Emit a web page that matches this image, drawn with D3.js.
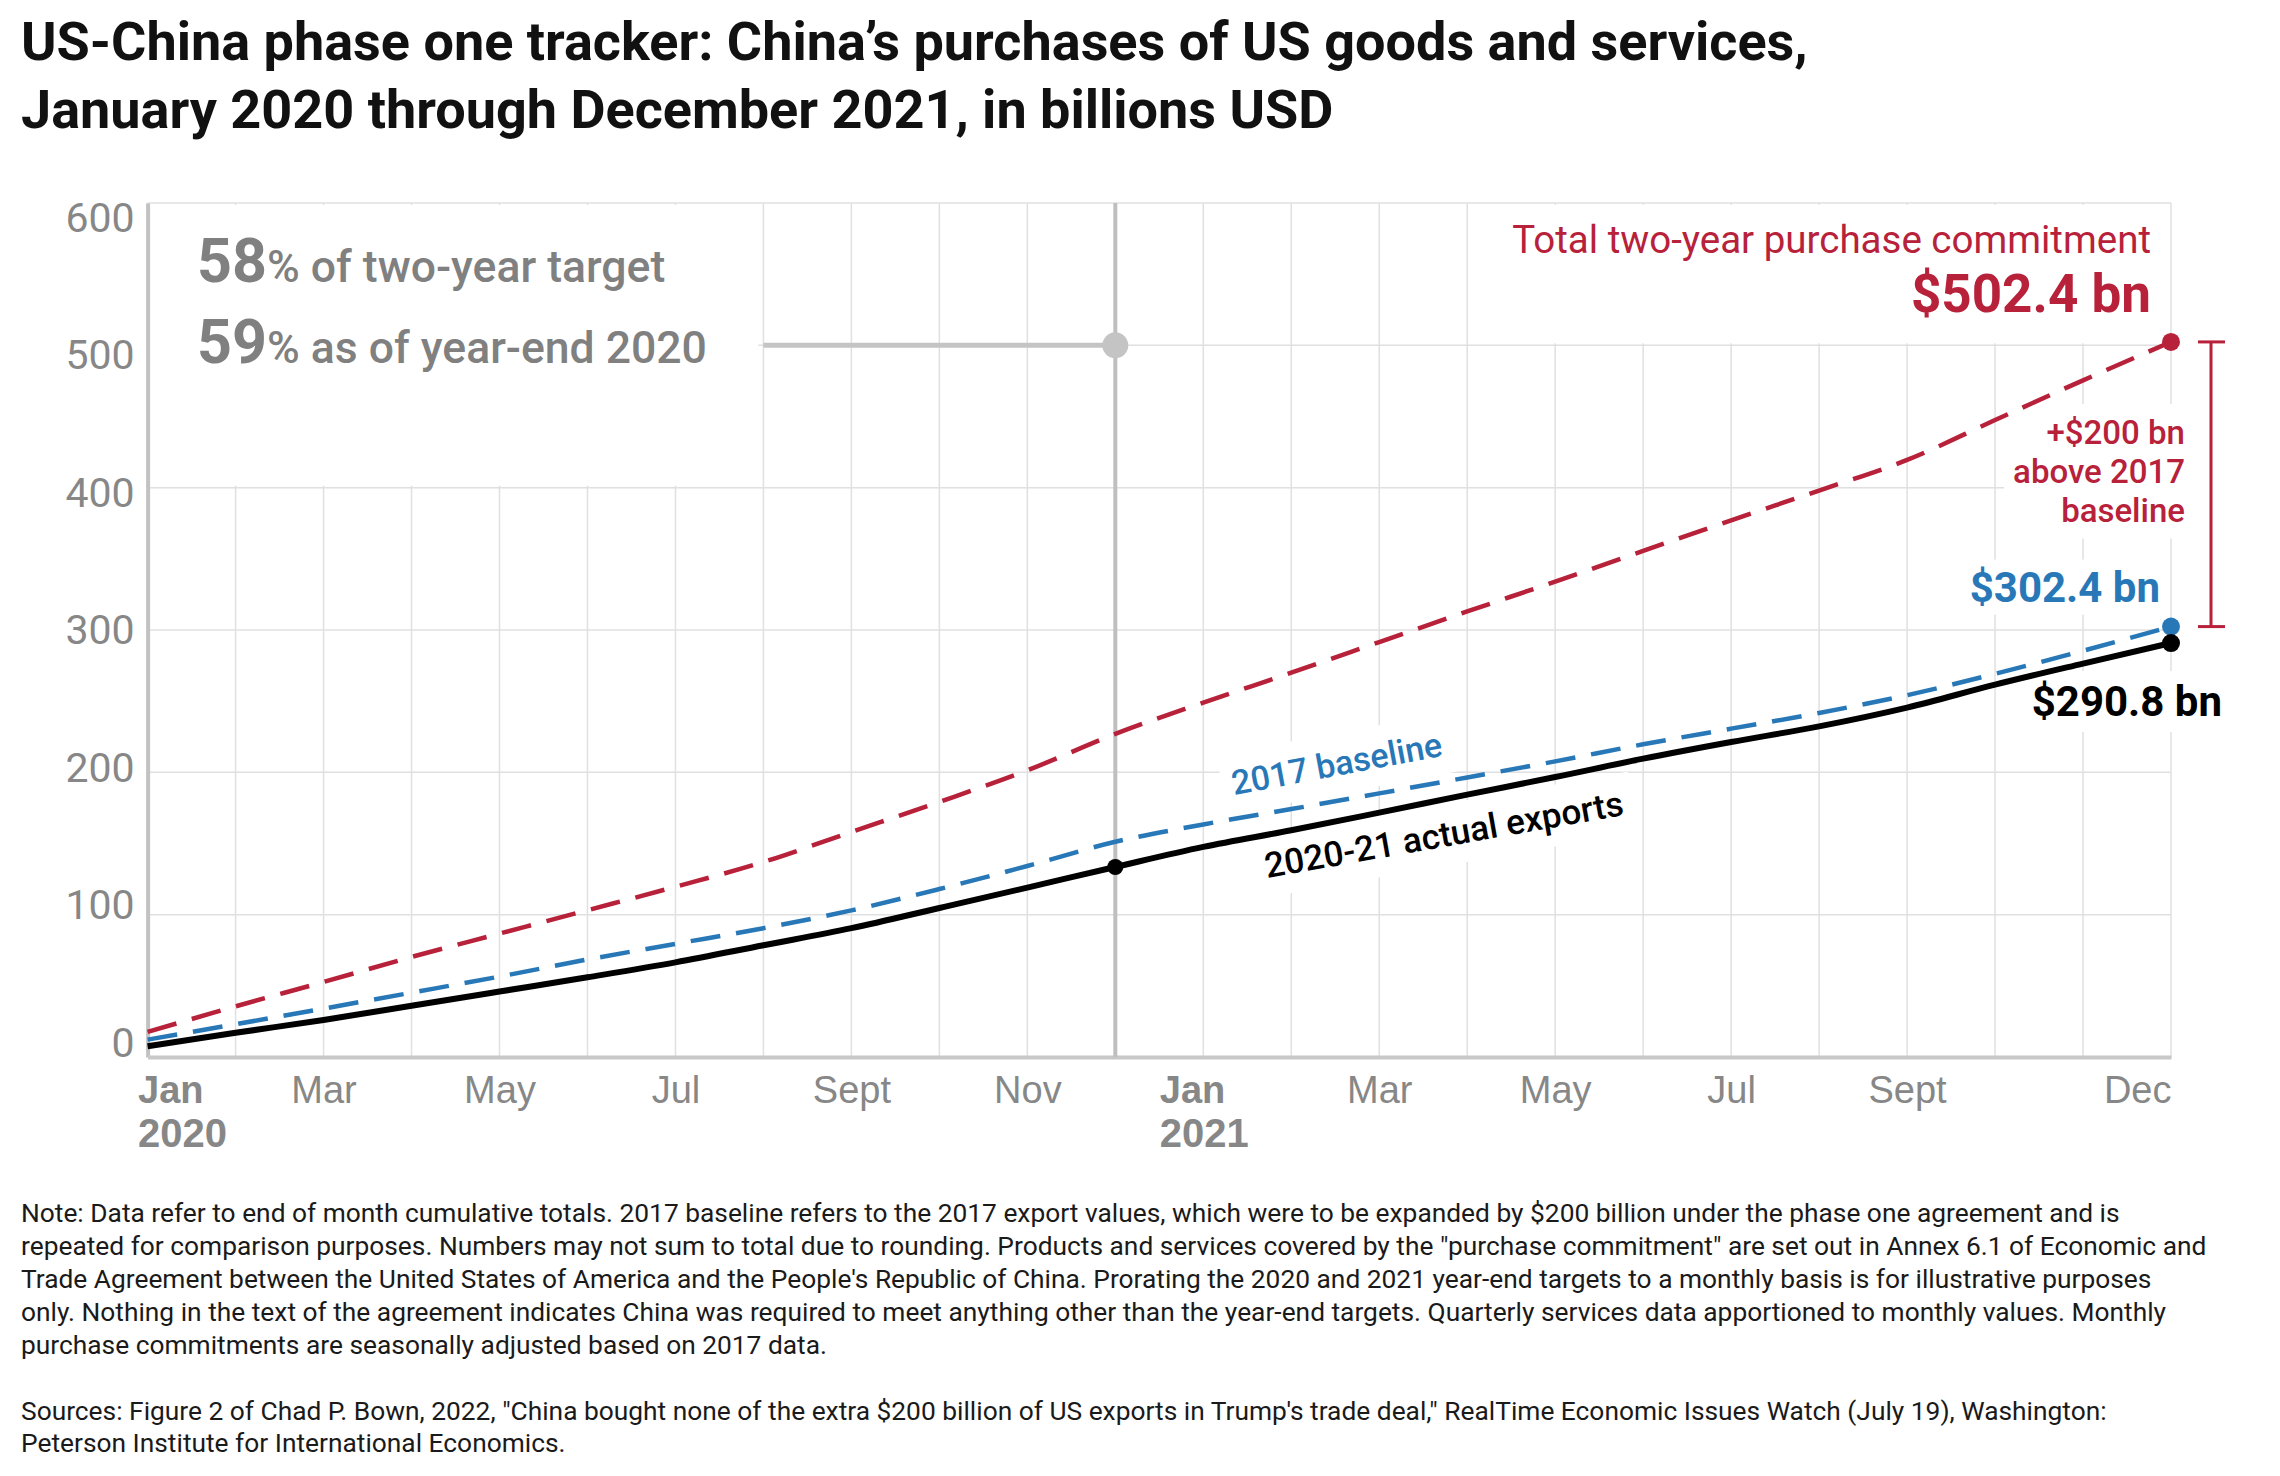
<!DOCTYPE html>
<html><head><meta charset="utf-8">
<script src="https://cdn.jsdelivr.net/npm/d3@7"></script>
<style>
html,body{margin:0;padding:0;background:#fff;}
svg{display:block;font-family:Roboto,"Noto Sans",sans-serif;}
</style></head>
<body>
<svg id="chart" width="2280" height="1476"></svg>
<script>
// ---------- data ----------
const months = ["2020-01","2020-02","2020-03","2020-04","2020-05","2020-06","2020-07","2020-08","2020-09","2020-10","2020-11","2020-12",
                "2021-01","2021-02","2021-03","2021-04","2021-05","2021-06","2021-07","2021-08","2021-09","2021-10","2021-11","2021-12"];
const actualExports = [7.5,17,26,36,46,56,66.5,78.5,90.5,104.7,119,133.5,
                       147.6,159.3,171.7,184.3,196.7,209.6,221.3,232.3,245.5,261.6,276.4,290.8];
const baseline2017 = [12.2,23,34,45.2,56.5,68.5,79.5,90.5,103,118,134.2,151.2,
                      163.4,174.2,185.2,196.4,207.7,219.7,230.7,241.7,254.2,269.2,285.4,302.4];
const commitment = [17.6,35.6,52.7,70.3,86.7,103.1,119.6,137,158.1,179.2,201.4,227,
                    249,270,291.5,313,334,355.6,377,398,419.5,447.5,475.4,502.4];
const yTicks = [0,100,200,300,400,500,600];
const xTickMonths = ["2020-01","2020-03","2020-05","2020-07","2020-09","2020-11","2021-01","2021-03","2021-05","2021-07","2021-09","2021-12"];
const xTickNames = ["Jan","Mar","May","Jul","Sept","Nov","Jan","Mar","May","Jul","Sept","Dec"];
const xTickYears = ["2020","","","","","","2021","","","","",""];
const titleLines = ["US-China phase one tracker: China\u2019s purchases of US goods and services,",
                    "January 2020 through December 2021, in billions USD"];
const noteLines = [
 "Note: Data refer to end of month cumulative totals. 2017 baseline refers to the 2017 export values, which were to be expanded by $200 billion under the phase one agreement and is",
 "repeated for comparison purposes. Numbers may not sum to total due to rounding. Products and services covered by the \"purchase commitment\" are set out in Annex 6.1 of Economic and",
 "Trade Agreement between the United States of America and the People's Republic of China. Prorating the 2020 and 2021 year-end targets to a monthly basis is for illustrative purposes",
 "only. Nothing in the text of the agreement indicates China was required to meet anything other than the year-end targets. Quarterly services data apportioned to monthly values. Monthly",
 "purchase commitments are seasonally adjusted based on 2017 data."];
const sourceLines = [
 "Sources: Figure 2 of Chad P. Bown, 2022, \"China bought none of the extra $200 billion of US exports in Trump's trade deal,\" RealTime Economic Issues Watch (July 19), Washington:",
 "Peterson Institute for International Economics."];
const bracketLines = ["+$200 bn", "above 2017", "baseline"];
const yearEnd2020Month = "2020-12";
const leaderStartMonth = "2020-08";
const yearEnd2020Level = 500;

// ---------- styles ----------
const RED = "#b8213a", BLUE = "#2878b8", GRAY = "#878787", GRID = "#e0e0e0";

const svg = d3.select("#chart");
const x = d3.scalePoint().domain(months).range([147.6, 2171]);
const y = d3.scaleLinear().domain([0, 600]).range([1057, 203]);
const yLab = d3.scaleLinear().domain([0, 600]).range([1042, 217]); // label centres in reference

// title
const title = svg.append("g");
titleLines.forEach((t, i) => {
  title.append("text").attr("x", 21).attr("y", 60 + i * 68)
    .attr("font-size", 54).attr("font-weight", 700).attr("fill", "#111").text(t);
});

// gridlines
const grid = svg.append("g");
grid.selectAll("line.v").data(months).join("line")
  .attr("x1", d => x(d)).attr("x2", d => x(d)).attr("y1", y(600)).attr("y2", y(0))
  .attr("stroke", GRID).attr("stroke-width", 1.5);
grid.selectAll("line.h").data(yTicks.filter(d => d > 0)).join("line")
  .attr("x1", x(months[0])).attr("x2", x(months[months.length - 1]))
  .attr("y1", d => y(d)).attr("y2", d => y(d))
  .attr("stroke", GRID).attr("stroke-width", 1.5);

// white knock-out boxes behind annotations
const boxes = svg.append("g");
boxes.append("rect").attr("x", 150).attr("y", y(600) + 2).attr("width", x(leaderStartMonth) - 155)
  .attr("height", y(400) - y(600) - 4).attr("fill", "#fff");
boxes.append("rect").attr("x", 1490).attr("y", y(600) + 2).attr("width", x(months[23]) - 1493)
  .attr("height", y(500) - y(600) - 4).attr("fill", "#fff");

// axes
const yAxis = d3.axisLeft(y).tickValues(yTicks).tickSize(0).tickPadding(0);
const yAx = svg.append("g").attr("transform", "translate(147.6,0)").call(yAxis);
yAx.select(".domain").attr("stroke", "#c2c2c2").attr("stroke-width", 4);
yAx.selectAll(".tick").attr("transform", d => `translate(0,${yLab(d)})`);
yAx.selectAll(".tick text").attr("x", -13).attr("dy", "0.36em")
  .attr("font-size", 41).attr("font-family", "Roboto").attr("fill", GRAY);

const xAxis = d3.axisBottom(x).tickValues(xTickMonths).tickSize(0).tickFormat(() => "");
const xAx = svg.append("g").attr("transform", `translate(0,${y(0)})`).call(xAxis);
xAx.select(".domain").attr("stroke", "#c8c8c8").attr("stroke-width", 4);
xAx.selectAll(".tick text").remove();
xAx.selectAll(".tick").each(function(d, i) {
  const g = d3.select(this);
  const isJan = xTickNames[i] === "Jan";
  let anchor = "middle", dx = 0;
  if (i === 0) { anchor = "start"; dx = -10; }
  else if (isJan) { anchor = "start"; dx = -44; }
  else if (i === xTickMonths.length - 1) { anchor = "end"; dx = 0; }
  g.append("text").attr("x", dx).attr("y", 46).attr("text-anchor", anchor)
    .attr("font-size", 38).attr("font-weight", isJan ? 700 : 400).attr("fill", GRAY).text(xTickNames[i]);
  if (xTickYears[i]) {
    g.append("text").attr("x", dx).attr("y", 90).attr("text-anchor", anchor)
      .attr("font-size", 40).attr("font-weight", 700).attr("fill", GRAY).text(xTickYears[i]);
  }
});

// year-end 2020 vertical and leader
svg.append("line").attr("x1", x(yearEnd2020Month)).attr("x2", x(yearEnd2020Month))
  .attr("y1", y(600)).attr("y2", y(0)).attr("stroke", "#bfbfbf").attr("stroke-width", 4);
svg.append("line").attr("x1", x(leaderStartMonth)).attr("x2", x(yearEnd2020Month))
  .attr("y1", y(yearEnd2020Level)).attr("y2", y(yearEnd2020Level)).attr("stroke", "#c4c4c4").attr("stroke-width", 5);
svg.append("circle").attr("cx", x(yearEnd2020Month)).attr("cy", y(yearEnd2020Level)).attr("r", 13).attr("fill", "#c4c4c4");

const knock = svg.append("g");
const linesG = svg.append("g");
const labels = svg.append("g");

function addKnock(sel, pad, rot) {
  const bb = sel.node().getBBox();
  const r = knock.append("rect").attr("x", bb.x - pad).attr("y", bb.y - pad)
    .attr("width", bb.width + 2 * pad).attr("height", bb.height + 2 * pad).attr("fill", "#fff");
  if (rot) r.attr("transform", rot);
}

// lines
const lineGen = d3.line().x((d, i) => x(months[i])).y(d => y(d)).curve(d3.curveMonotoneX);
linesG.append("path").datum(commitment).attr("d", lineGen).attr("fill", "none")
  .attr("stroke", RED).attr("stroke-width", 4.5).attr("stroke-dasharray", "30,16");
linesG.append("path").datum(baseline2017).attr("d", lineGen).attr("fill", "none")
  .attr("stroke", BLUE).attr("stroke-width", 4.5).attr("stroke-dasharray", "30,16");
linesG.append("path").datum(actualExports).attr("d", lineGen).attr("fill", "none")
  .attr("stroke", "#000").attr("stroke-width", 6).attr("stroke-linejoin", "round");

const last = months.length - 1;
linesG.append("circle").attr("cx", x(months[last])).attr("cy", y(commitment[last])).attr("r", 9).attr("fill", RED);
linesG.append("circle").attr("cx", x(months[last])).attr("cy", y(baseline2017[last])).attr("r", 9).attr("fill", BLUE);
linesG.append("circle").attr("cx", x(months[last])).attr("cy", y(actualExports[last])).attr("r", 9).attr("fill", "#000");
linesG.append("circle").attr("cx", x(yearEnd2020Month)).attr("cy", y(actualExports[11])).attr("r", 8).attr("fill", "#000");

// bracket
const bx = 2211;
const br = svg.append("g").attr("stroke", RED).attr("stroke-width", 3);
br.append("line").attr("x1", bx).attr("x2", bx).attr("y1", y(commitment[last])).attr("y2", y(baseline2017[last]));
br.append("line").attr("x1", bx - 13).attr("x2", bx + 14).attr("y1", y(commitment[last])).attr("y2", y(commitment[last]));
br.append("line").attr("x1", bx - 13).attr("x2", bx + 14).attr("y1", y(baseline2017[last])).attr("y2", y(baseline2017[last]));

// left annotation
const a1 = labels.append("text").attr("x", 197).attr("y", 281.7).attr("fill", "#808080");
a1.append("tspan").attr("font-size", 61).attr("font-weight", 700).text("58");
a1.append("tspan").attr("font-size", 44.5).attr("font-weight", 500).text("% of two-year target");
const a2 = labels.append("text").attr("x", 197).attr("y", 363).attr("fill", "#808080");
a2.append("tspan").attr("font-size", 61).attr("font-weight", 700).text("59");
a2.append("tspan").attr("font-size", 44.5).attr("font-weight", 500).text("% as of year-end 2020");

// right annotations
labels.append("text").attr("x", 2151).attr("y", 253).attr("text-anchor", "end")
  .attr("font-size", 38.5).attr("font-weight", 400).attr("fill", RED).text("Total two-year purchase commitment");
labels.append("text").attr("x", 2151).attr("y", 312).attr("text-anchor", "end")
  .attr("font-size", 53).attr("font-weight", 700).attr("fill", RED).text("$502.4 bn");

const plus = labels.append("g");
bracketLines.forEach((t, i) => {
  plus.append("text").attr("x", 2185).attr("y", 444 + i * 38.8).attr("text-anchor", "end")
    .attr("font-size", 33).attr("font-weight", 500).attr("fill", RED).text(t);
});
addKnock(plus, 9);

const l302 = labels.append("text").attr("x", 2160).attr("y", 601.6).attr("text-anchor", "end")
  .attr("font-size", 42).attr("font-weight", 700).attr("fill", BLUE).text("$302.4 bn");
addKnock(l302, 3);
const l290 = labels.append("text").attr("x", 2222).attr("y", 716).attr("text-anchor", "end")
  .attr("font-size", 42).attr("font-weight", 700).attr("fill", "#000").text("$290.8 bn");
addKnock(l290, 6);

// in-line series labels (rotated)
const rotB = "rotate(-10.6,1234,795)";
const lb = labels.append("text").attr("x", 1234).attr("y", 795).attr("transform", rotB)
  .attr("font-size", 34).attr("font-weight", 500).attr("fill", BLUE).text("2017 baseline");
addKnock(lb, 10, rotB);
const rotA = "rotate(-10,1267,878)";
const la = labels.append("text").attr("x", 1267).attr("y", 878).attr("transform", rotA)
  .attr("font-size", 35).attr("font-weight", 500).attr("fill", "#000").text("2020-21 actual exports");
addKnock(la, 10, rotA);

// notes
const notes = svg.append("g").attr("fill", "#1a1a1a").attr("font-weight", 400);
const noteTexts = [];
noteLines.forEach((t, i) => {
  noteTexts.push(notes.append("text").attr("x", 21).attr("y", 1222 + i * 33).attr("font-size", 24).text(t));
});
sourceLines.forEach((t, i) => {
  noteTexts.push(notes.append("text").attr("x", 21).attr("y", 1420 + i * 32).attr("font-size", 24).text(t));
});
const w = noteTexts[1].node().getComputedTextLength();
const fs = 24 * (2186 / w);
noteTexts.forEach(t => t.attr("font-size", fs));
</script>
</body></html>
